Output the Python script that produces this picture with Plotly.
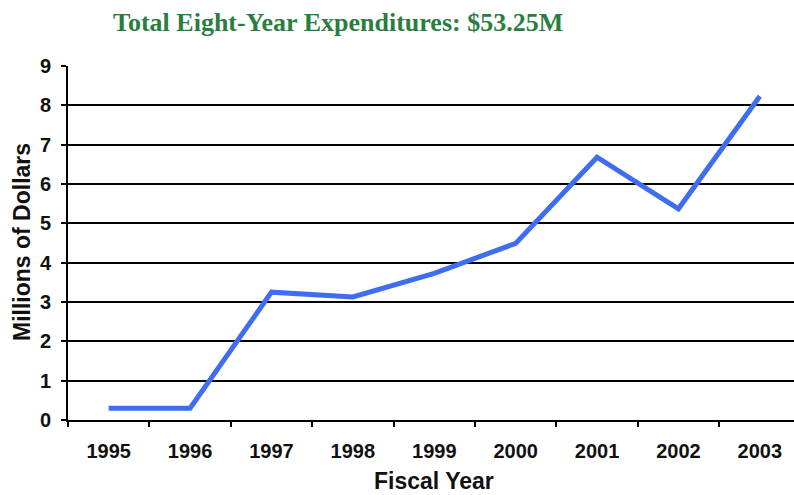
import plotly.graph_objects as go

# Annual expenditures, millions of dollars
fiscal_years = ["1995", "1996", "1997", "1998", "1999", "2000", "2001", "2002", "2003"]
expenditures = [0.3, 0.3, 3.25, 3.13, 3.73, 4.49, 6.68, 5.37, 8.23]
y_ticks = list(range(0, 10))

title_text = "Total Eight-Year Expenditures: $53.25M"
x_title = "Fiscal Year"
y_title = "Millions of Dollars"

fig = go.Figure(
    go.Scatter(
        x=fiscal_years,
        y=expenditures,
        mode="lines",
        line=dict(color="#3F6DF2", width=5),
        hoverinfo="x+y",
    )
)

tick_font = dict(family="Liberation Sans, Arial, sans-serif", size=20, color="#111111", weight="bold")
title_font = dict(family="Liberation Sans, Arial, sans-serif", size=23, color="#111111", weight="bold")

fig.update_layout(
    width=794,
    height=495,
    margin=dict(l=68, r=0, t=66, b=75),
    paper_bgcolor="white",
    plot_bgcolor="white",
    showlegend=False,
    xaxis=dict(
        type="category",
        range=[-0.5, 8.42],
        showgrid=False,
        showline=True,
        linecolor="black",
        linewidth=2,
        ticks="outside",
        tickson="boundaries",
        ticklen=5,
        tickwidth=1.5,
        tickcolor="black",
        ticklabelstandoff=12,
        tickfont=tick_font,
        zeroline=False,
    ),
    yaxis=dict(
        range=[0, 9],
        tickvals=y_ticks,
        showgrid=True,
        gridcolor="black",
        gridwidth=1.5,
        showline=True,
        linecolor="black",
        linewidth=2,
        ticks="outside",
        ticklen=5,
        tickwidth=1.5,
        tickcolor="black",
        ticklabelstandoff=6,
        tickfont=tick_font,
        zeroline=False,
    ),
    annotations=[
        dict(
            text=title_text,
            xref="paper", yref="paper",
            x=(338 - 68) / 726, y=1 + (66 - 22) / 354,
            xanchor="center", yanchor="middle",
            showarrow=False,
            font=dict(family="Liberation Serif, serif", size=26, color="#2B7D3F", weight="bold"),
        ),
        dict(
            text=x_title,
            xref="paper", yref="paper",
            x=(434 - 68) / 726, y=-(481 - 420) / 354,
            xanchor="center", yanchor="middle",
            showarrow=False,
            font=title_font,
        ),
        dict(
            text=y_title,
            xref="paper", yref="paper",
            x=(22 - 68) / 726, y=(420 - 242) / 354,
            xanchor="center", yanchor="middle",
            textangle=-90,
            showarrow=False,
            font=title_font,
        ),
    ],
)

fig.write_html("out.html")
